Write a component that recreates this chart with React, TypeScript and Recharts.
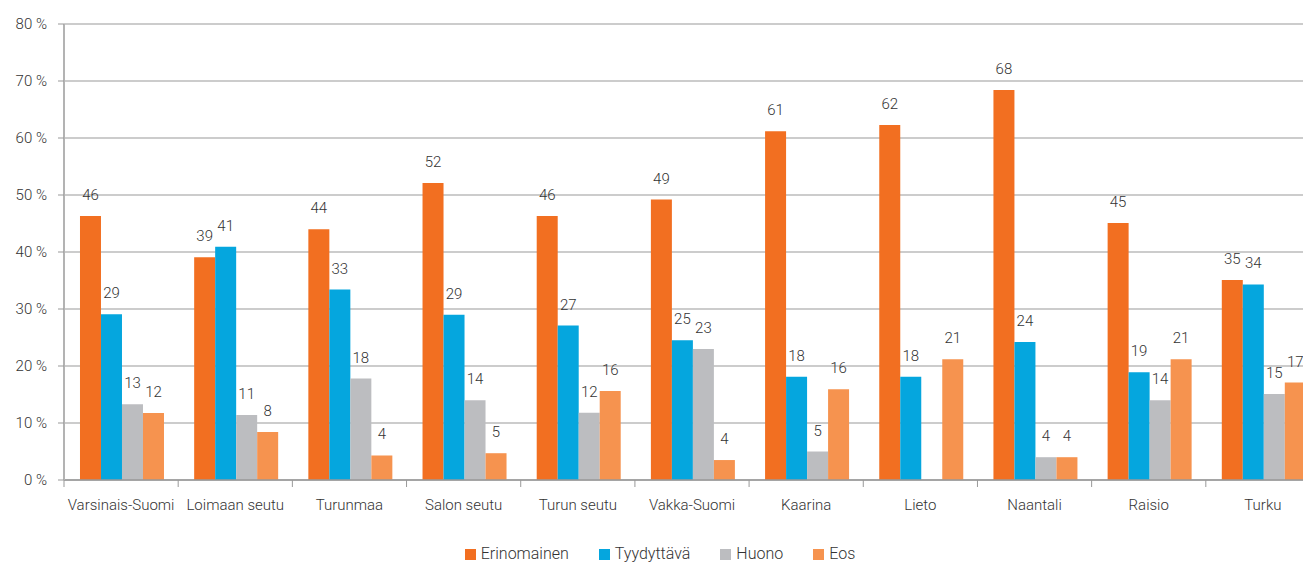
import React from "react"
import { BarChart, Bar, XAxis, YAxis, CartesianGrid, LabelList, Legend } from "recharts"

const regions = ["Varsinais-Suomi", "Loimaan seutu", "Turunmaa", "Salon seutu", "Turun seutu", "Vakka-Suomi", "Kaarina", "Lieto", "Naantali", "Raisio", "Turku"]
const erinomainen = [46.3, 39.1, 44.0, 52.1, 46.3, 49.2, 61.2, 62.3, 68.4, 45.1, 35.1]
const tyydyttava = [29.1, 40.9, 33.4, 29.0, 27.1, 24.5, 18.1, 18.1, 24.2, 18.9, 34.3]
const huono = [13.3, 11.4, 17.8, 14.0, 11.8, 23.0, 5.0, 0, 4.0, 14.0, 15.1]
const eos = [11.75, 8.4, 4.3, 4.7, 15.6, 3.5, 15.9, 21.2, 4.0, 21.2, 17.1]
const yTicks = [0, 10, 20, 30, 40, 50, 60, 70, 80]

const series = [
  { key: "erinomainen", name: "Erinomainen", color: "#F26F21" },
  { key: "tyydyttava", name: "Tyydyttävä", color: "#05A6DE" },
  { key: "huono", name: "Huono", color: "#BCBDC0" },
  { key: "eos", name: "Eos", color: "#F6934F" },
]

const data = regions.map((name, i) => ({
  name,
  erinomainen: erinomainen[i],
  tyydyttava: tyydyttava[i],
  huono: huono[i],
  eos: eos[i],
}))

const FONT = "Roboto, 'Liberation Sans', sans-serif"
const CHART_W = 1330
const MARGIN = { top: 24, right: 10, left: 0, bottom: 0 }
const Y_W = 64
const BAND = (CHART_W - MARGIN.left - MARGIN.right - Y_W) / regions.length

// category label plus a tick mark on the boundary between groups
const RegionTick = ({ x, y, payload }: any) => (
  <g>
    <line x1={x - BAND / 2} x2={x - BAND / 2} y1={y} y2={y + 7} stroke="#999" strokeWidth={1} />
    <text x={x} y={y} dy={30} textAnchor="middle" fill="#333" fontSize={15} fontWeight={300} fontFamily={FONT}>
      {payload.value}
    </text>
  </g>
)

const LegendContent = () => (
  <div style={{ display: "flex", justifyContent: "center", alignItems: "center", gap: 30, paddingTop: 9, lineHeight: "18px", fontFamily: FONT, fontSize: 16, fontWeight: 300, color: "#333" }}>
    {series.map((s) => (
      <div key={s.key} style={{ display: "flex", alignItems: "center" }}>
        <span style={{ width: 11, height: 11, background: s.color, display: "inline-block", marginRight: 5 }} />
        <span>{s.name}</span>
      </div>
    ))}
  </div>
)

export default function App() {
  return (
    <div style={{ position: "absolute", left: 0, top: 0, width: 1303, height: 566, overflow: "hidden", background: "#fff" }}>
      <BarChart width={CHART_W} height={566} data={data} margin={MARGIN} barCategoryGap="14%" barGap={0}>
        <CartesianGrid vertical={false} stroke="#999" strokeWidth={1} />
        <XAxis dataKey="name" height={56} tickSize={0} tickMargin={0} tickLine={false} axisLine={{ stroke: "#999", strokeWidth: 1.3 }} tick={<RegionTick />} interval={0} />
        <YAxis width={Y_W} domain={[0, 80]} ticks={yTicks} tickFormatter={(v) => `${v} %`} tickSize={6} tickMargin={11} axisLine={{ stroke: "#b3b3b3", strokeWidth: 2 }} tickLine={{ stroke: "#999" }} tick={{ fill: "#333", fontSize: 15, fontWeight: 300, fontFamily: FONT }} />
        <Legend verticalAlign="bottom" content={<LegendContent />} wrapperStyle={{ height: 30 }} />
        {series.map((s) => (
          <Bar key={s.key} dataKey={s.key} name={s.name} fill={s.color} isAnimationActive={false}>
            <LabelList dataKey={s.key} position="top" offset={16} formatter={(v: any) => Math.round(v)} fill="#333" fontSize={15} fontWeight={300} fontFamily={FONT} />
          </Bar>
        ))}
      </BarChart>
    </div>
  )
}
